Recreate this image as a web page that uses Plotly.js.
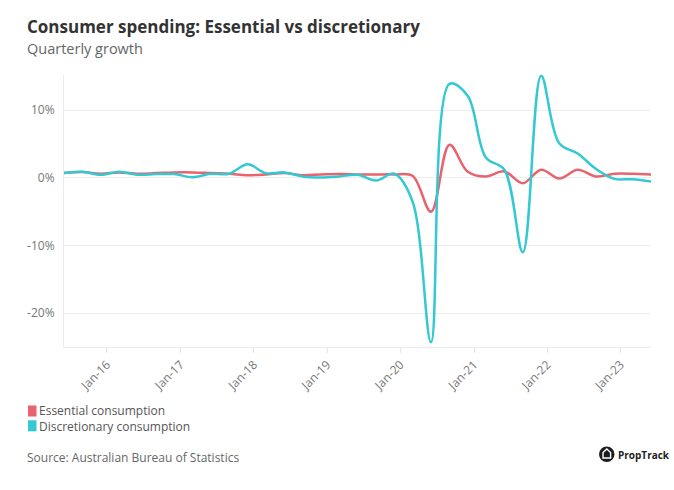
<!DOCTYPE html>
<html>
<head>
<meta charset="utf-8">
<script src="https://cdn.plot.ly/plotly-3.0.1.min.js"></script>
<style>html,body{margin:0;padding:0;background:#fff;}#chart{width:674px;height:490px;}</style>
</head>
<body>
<div id="chart"></div>
<script>
// ---- Data ----
var quarters = [
  '2015-06-01','2015-09-01','2015-12-01',
  '2016-03-01','2016-06-01','2016-09-01','2016-12-01',
  '2017-03-01','2017-06-01','2017-09-01','2017-12-01',
  '2018-03-01','2018-06-01','2018-09-01','2018-12-01',
  '2019-03-01','2019-06-01','2019-09-01','2019-12-01',
  '2020-03-01','2020-06-01','2020-09-01','2020-12-01',
  '2021-03-01','2021-06-01','2021-09-01','2021-12-01',
  '2022-03-01','2022-06-01','2022-09-01','2022-12-01',
  '2023-03-01','2023-06-01'
];
var essential = [
  0.7, 0.85, 0.6,
  0.8, 0.6, 0.7, 0.8,
  0.8, 0.7, 0.6, 0.4,
  0.5, 0.7, 0.4, 0.5,
  0.55, 0.5, 0.5, 0.5,
  0.3, -5.0, 4.9, 0.9,
  0.2, 0.95, -0.8, 1.2,
  -0.1, 1.2, 0.2, 0.6,
  0.6, 0.5
];
var discretionary = [
  0.7, 0.9, 0.45,
  0.9, 0.45, 0.55, 0.55,
  0.1, 0.6, 0.6, 2.0,
  0.7, 0.8, 0.2, 0.05,
  0.2, 0.45, -0.4, 0.6,
  -3.5, -24.3, 13.9, 12.1,
  3.0, 1.2, -11.0, 15.1,
  5.1, 3.6, 1.3, -0.15,
  -0.2, -0.55
];
var seriesNames = ['Essential consumption', 'Discretionary consumption'];
var seriesColors = ['#E8636E', '#33C9D2'];
var xTickVals = ['2016-01-01','2017-01-01','2018-01-01','2019-01-01','2020-01-01','2021-01-01','2022-01-01','2023-01-01'];
var yTickVals = [-20, -10, 0, 10];
var yTickText = ['-20%', '-10%', '0%', '10%'];
var titleText = 'Consumer spending: Essential vs discretionary';
var subtitleText = 'Quarterly growth';
var sourceText = 'Source: Australian Bureau of Statistics';
var brandText = 'PropTrack';

// ---- Layout helpers (pixel -> paper) ----
var W = 674, H = 490, ML = 64, MR = 23, MT = 75, MB = 143;
var PW = W - ML - MR, PH = H - MT - MB;
function px(x) { return (x - ML) / PW; }
function py(y) { return (H - MB - y) / PH; }

var FONT = 'Open Sans, sans-serif';

var traces = [
  {x: quarters, y: essential, name: seriesNames[0], type: 'scatter', mode: 'lines',
   line: {color: seriesColors[0], width: 2.5, shape: 'spline', smoothing: 1}, showlegend: false,
   hovertemplate: '%{x|%b-%y}: %{y:.1f}%<extra>' + seriesNames[0] + '</extra>'},
  {x: quarters, y: discretionary, name: seriesNames[1], type: 'scatter', mode: 'lines',
   line: {color: seriesColors[1], width: 2.5, shape: 'spline', smoothing: 1}, showlegend: false,
   hovertemplate: '%{x|%b-%y}: %{y:.1f}%<extra>' + seriesNames[1] + '</extra>'}
];

var shapes = [];
var annotations = [];

// Legend (manual): swatches + one two-line text block
var legY = [411, 425.8];
for (var i = 0; i < 2; i++) {
  shapes.push({type: 'rect', xref: 'paper', yref: 'paper',
    x0: px(28), x1: px(36.5), y0: py(legY[i] + 5.5), y1: py(legY[i] - 5.5),
    fillcolor: seriesColors[i], line: {width: 0}});
}
annotations.push({xref: 'paper', yref: 'paper', x: px(37), y: py((legY[0] + legY[1]) / 2),
  xanchor: 'left', yanchor: 'middle', align: 'left', showarrow: false,
  text: seriesNames[0] + '<br>' + seriesNames[1],
  font: {family: FONT, size: 12, color: '#555'}});
// Subtitle
annotations.push({xref: 'paper', yref: 'paper', x: px(25), y: py(49), xanchor: 'left', yanchor: 'middle',
  showarrow: false, text: subtitleText, font: {family: FONT, size: 14.5, color: '#666'}});
// Source
annotations.push({xref: 'paper', yref: 'paper', x: px(25), y: py(457), xanchor: 'left', yanchor: 'middle',
  showarrow: false, text: sourceText, font: {family: FONT, size: 12, color: '#666'}});
// Brand logo
shapes.push({type: 'circle', xref: 'paper', yref: 'paper', x0: px(599), x1: px(614.5), y0: py(462), y1: py(446.5),
  fillcolor: '#1d1d1d', line: {width: 0}});
shapes.push({type: 'path', xref: 'paper', yref: 'paper',
  path: 'M' + px(603) + ',' + py(458) + ' L' + px(603) + ',' + py(452.5) + ' L' + px(606.8) + ',' + py(449) +
        ' L' + px(610.6) + ',' + py(452.5) + ' L' + px(610.6) + ',' + py(458) + ' Z',
  line: {color: '#fff', width: 1.4}, fillcolor: 'rgba(0,0,0,0)'});
annotations.push({xref: 'paper', yref: 'paper', x: px(615.5), y: py(454.5), xanchor: 'left', yanchor: 'middle',
  showarrow: false, text: '<b>' + brandText + '</b>', font: {family: FONT, size: 10, color: '#222'}});

var layout = {
  width: W, height: H,
  margin: {l: ML, r: MR, t: MT, b: MB, pad: 0},
  paper_bgcolor: '#fff', plot_bgcolor: '#fff',
  font: {family: FONT, color: '#777'},
  title: {text: '<b>' + titleText + '</b>', xref: 'container', yref: 'container',
    x: 27 / W, xanchor: 'left', y: 1 - 27 / H, yanchor: 'middle',
    font: {family: FONT, size: 17, color: '#333'}},
  xaxis: {type: 'date', range: ['2015-06-01', '2023-06-01'], tickvals: xTickVals, tickformat: '%b-%y',
    tickangle: -45, ticks: 'outside', ticklen: 5, tickcolor: '#e6e6e6', showline: true, linecolor: '#ececec',
    linewidth: 1, showgrid: false, zeroline: false, tickfont: {family: FONT, size: 12, color: '#777'}},
  yaxis: {range: [-25, 15.2], tickvals: yTickVals, ticktext: yTickText, showgrid: true, gridcolor: '#eeeeee',
    showline: true, linecolor: '#ececec', zeroline: false, ticks: '', ticklabelstandoff: 6,
    tickfont: {family: FONT, size: 12, color: '#777'}},
  shapes: shapes,
  annotations: annotations,
  showlegend: false,
  hovermode: 'closest'
};

Plotly.newPlot('chart', traces, layout, {displayModeBar: false, responsive: false});
</script>
</body>
</html>
